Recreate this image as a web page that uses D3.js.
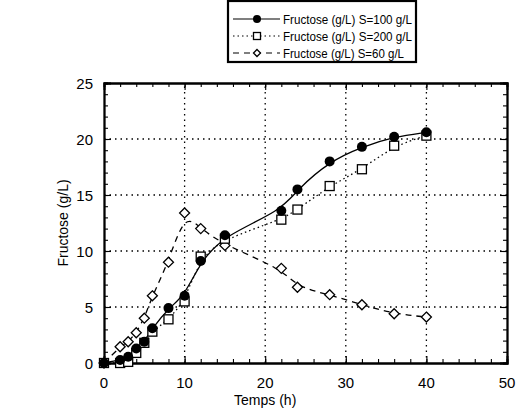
<html>
<script src="https://d3js.org/d3.v7.min.js"></script>
<style>
    body { margin: 0; background: #fff; }
    text { font-family: "Liberation Sans", Arial, sans-serif; fill: #000; }
</style>

<body>
    <script>
        var width = 518;
        var height = 414;

        // data
        var temps = [0, 2, 3, 4, 5, 6, 8, 10, 12, 15, 22, 24, 28, 32, 36, 40];
        var fructose100 = [0, 0.27, 0.56, 1.3, 1.9, 3.1, 4.9, 6.0, 9.1, 11.4, 13.6, 15.5, 18.0, 19.3, 20.2, 20.6];
        var fructose200 = [0, 0.0, 0.1, 0.9, 1.8, 2.8, 3.9, 5.5, 9.5, 11.1, 12.8, 13.7, 15.8, 17.3, 19.4, 20.3];
        var fructose60 = [0, 1.45, 1.9, 2.7, 4.0, 6.0, 9.0, 13.4, 12.0, 10.5, 8.45, 6.76, 6.1, 5.2, 4.4, 4.1];
        var seriesNames = ["Fructose (g/L) S=100 g/L", "Fructose (g/L) S=200 g/L", "Fructose (g/L) S=60 g/L"];
        var xTicks = [0, 10, 20, 30, 40, 50];
        var yTicks = [0, 5, 10, 15, 20, 25];

        var svg = d3.select("body").append("svg")
            .attr("width", width)
            .attr("height", height);

        var x = d3.scaleLinear().domain([0, 50]).range([104, 507]);
        var y = d3.scaleLinear().domain([0, 25]).range([363, 83]);

        // grid
        var grid = svg.append("g");
        grid.selectAll(".gx").data(xTicks.slice(1, -1)).enter().append("line")
            .attr("x1", d => x(d)).attr("x2", d => x(d))
            .attr("y1", y(0)).attr("y2", y(25))
            .attr("stroke", "#000").attr("stroke-width", 1.3)
            .attr("stroke-dasharray", "1.5,4");
        grid.selectAll(".gy").data(yTicks.slice(1, -1)).enter().append("line")
            .attr("y1", d => y(d)).attr("y2", d => y(d))
            .attr("x1", x(0)).attr("x2", x(50))
            .attr("stroke", "#000").attr("stroke-width", 1.3)
            .attr("stroke-dasharray", "1.5,4");

        // axes, ticks point inward on all four sides
        var minorX = d3.range(0, 51, 2);
        var minorY = d3.range(0, 26, 1);
        svg.append("g").attr("transform", `translate(0,${y(0)})`)
            .call(d3.axisTop(x).tickValues(minorX).tickSize(4).tickFormat(""));
        svg.append("g").attr("transform", `translate(0,${y(0)})`)
            .call(d3.axisTop(x).tickValues(xTicks).tickSize(7).tickFormat(""));
        svg.append("g").attr("transform", `translate(0,${y(25)})`)
            .call(d3.axisBottom(x).tickValues(minorX).tickSize(4).tickFormat(""));
        svg.append("g").attr("transform", `translate(0,${y(25)})`)
            .call(d3.axisBottom(x).tickValues(xTicks).tickSize(7).tickFormat(""));
        svg.append("g").attr("transform", `translate(${x(0)},0)`)
            .call(d3.axisRight(y).tickValues(minorY).tickSize(4).tickFormat(""));
        svg.append("g").attr("transform", `translate(${x(0)},0)`)
            .call(d3.axisRight(y).tickValues(yTicks).tickSize(7).tickFormat(""));
        svg.append("g").attr("transform", `translate(${x(50)},0)`)
            .call(d3.axisLeft(y).tickValues(minorY).tickSize(4).tickFormat(""));
        svg.append("g").attr("transform", `translate(${x(50)},0)`)
            .call(d3.axisLeft(y).tickValues(yTicks).tickSize(7).tickFormat(""));
        svg.selectAll(".domain").attr("stroke", "#000").attr("stroke-width", 1.8);
        svg.selectAll(".tick line").attr("stroke", "#000").attr("stroke-width", 1.1);

        // tick labels
        svg.append("g").selectAll("text").data(xTicks).enter().append("text")
            .attr("x", d => x(d)).attr("y", 388)
            .attr("text-anchor", "middle").attr("font-size", 15)
            .text(d => d);
        svg.append("g").selectAll("text").data(yTicks).enter().append("text")
            .attr("x", 93).attr("y", d => y(d) + 5.5)
            .attr("text-anchor", "end").attr("font-size", 15)
            .text(d => d);

        svg.append("text").attr("x", x(20)).attr("y", 405)
            .attr("text-anchor", "middle").attr("font-size", 14)
            .text("Temps (h)");
        svg.append("text")
            .attr("transform", `translate(68,${y(12.5)}) rotate(-90)`)
            .attr("text-anchor", "middle").attr("font-size", 14)
            .text("Fructose (g/L)");

        var series = [
            { name: seriesNames[0], values: fructose100, dash: null, marker: "circle" },
            { name: seriesNames[1], values: fructose200, dash: "1.5,3", marker: "square" },
            { name: seriesNames[2], values: fructose60, dash: "6,5", marker: "diamond" }
        ];

        var line = d3.line()
            .x((d, i) => x(temps[i]))
            .y(d => y(d))
            .curve(d3.curveBasis);

        function drawMarker(g, type, size) {
            if (type == "circle") {
                g.append("circle").attr("r", size).attr("fill", "#000");
            } else if (type == "square") {
                g.append("rect").attr("x", -size).attr("y", -size).attr("width", 2 * size).attr("height", 2 * size)
                    .attr("fill", "#fff").attr("stroke", "#000").attr("stroke-width", 1.3);
            } else {
                g.append("path").attr("d", `M0,${-size}L${size},0L0,${size}L${-size},0Z`)
                    .attr("fill", "#fff").attr("stroke", "#000").attr("stroke-width", 1.3);
            }
        }

        // draw lines first then markers (the filled ones last)
        [2, 1, 0].forEach(k => {
            var s = series[k];
            svg.append("path")
                .attr("d", line(s.values))
                .attr("fill", "none")
                .attr("stroke", "#000")
                .attr("stroke-width", 1.3)
                .attr("stroke-dasharray", s.dash);
        });
        [2, 1, 0].forEach(k => {
            var s = series[k];
            s.values.forEach((v, i) => {
                var g = svg.append("g").attr("transform", `translate(${x(temps[i])},${y(v)})`);
                drawMarker(g, s.marker, s.marker == "diamond" ? 5 : (s.marker == "square" ? 4.5 : 5));
            });
        });

        // legend
        var lg = svg.append("g");
        lg.append("rect")
            .attr("x", 228).attr("y", 1).attr("width", 188).attr("height", 61)
            .attr("fill", "#fff").attr("stroke", "#000").attr("stroke-width", 2.2);
        series.forEach((s, i) => {
            var ly = 19 + i * 17;
            lg.append("line").attr("x1", 233).attr("x2", 280)
                .attr("y1", ly).attr("y2", ly)
                .attr("stroke", "#000").attr("stroke-width", 1.2)
                .attr("stroke-dasharray", s.dash);
            var g = lg.append("g").attr("transform", `translate(257,${ly})`);
            drawMarker(g, s.marker, s.marker == "circle" ? 4 : 3.5);
            lg.append("text").attr("x", 283).attr("y", ly + 5)
                .attr("font-size", 13.5)
                .attr("textLength", i == 2 ? 121 : 129)
                .attr("lengthAdjust", "spacingAndGlyphs")
                .text(s.name);
        });
    </script>
</body>

</html>
